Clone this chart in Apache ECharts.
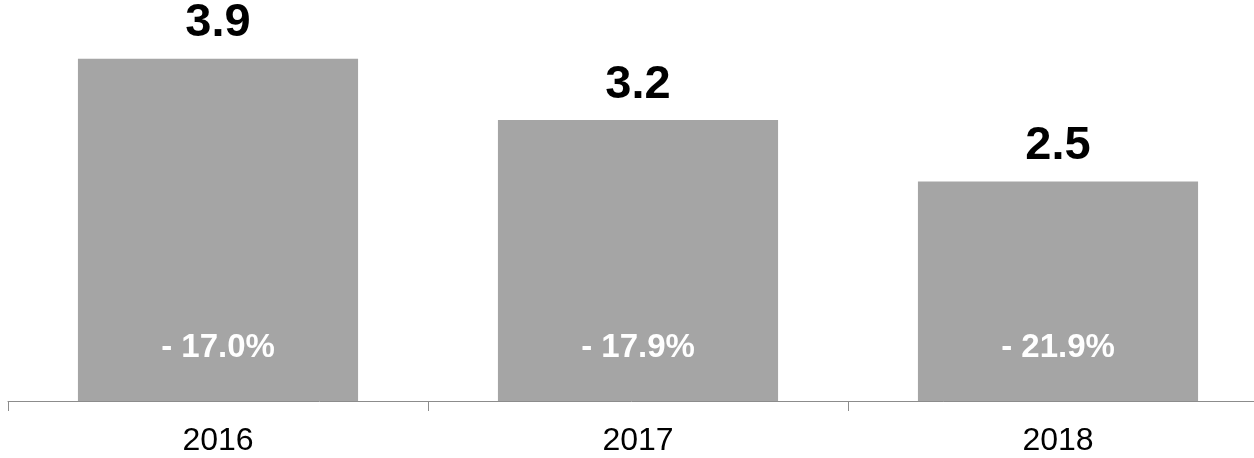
<!DOCTYPE html>
<html>
<head>
<meta charset="utf-8">
<style>
  html, body { margin: 0; padding: 0; background: #ffffff; }
  #chart { width: 1254px; height: 458px; }
</style>
<script src="https://cdn.jsdelivr.net/npm/echarts@6/dist/echarts.min.js"></script>
</head>
<body>
<div id="chart"></div>
<script>
// Yearly values and year-over-year change shown inside each bar
const years = ['2016', '2017', '2018'];
const values = [3.9, 3.2, 2.5];
const changes = ['- 17.0%', '- 17.9%', '- 21.9%'];

const FONT = '"Liberation Sans", Arial, Helvetica, sans-serif';
const BAR = '#a5a5a5';

const chart = echarts.init(document.getElementById('chart'), null, { renderer: 'canvas' });

chart.setOption({
  animation: false,
  // the plot area runs slightly past the right edge of the canvas
  grid: { left: 8, width: 1260, top: 6, bottom: 57, containLabel: false, outerBoundsMode: 'none' },
  xAxis: {
    type: 'category',
    data: years,
    axisLine: { lineStyle: { color: '#8c8c8c', width: 1 } },
    axisTick: { show: true, length: 10, lineStyle: { color: '#8c8c8c' } },
    axisLabel: { color: '#000000', fontFamily: FONT, fontSize: 32, margin: 24 }
  },
  yAxis: {
    type: 'value',
    min: 0,
    max: 4.5,
    show: false,
    splitLine: { show: false }
  },
  series: [
    {
      type: 'bar',
      data: values,
      barWidth: '66.7%',
      itemStyle: { color: BAR },
      label: {
        show: true,
        position: 'top',
        distance: 12,
        color: '#000000',
        fontFamily: FONT,
        fontWeight: 'bold',
        fontSize: 47,
        formatter: p => p.value.toFixed(1)
      }
    },
    {
      type: 'bar',
      data: values,
      barWidth: '66.7%',
      barGap: '-100%',
      itemStyle: { color: 'rgba(0,0,0,0)' },
      silent: true,
      label: {
        show: true,
        position: 'insideBottom',
        distance: 37,
        color: '#ffffff',
        fontFamily: FONT,
        fontWeight: 'bold',
        fontSize: 33,
        formatter: p => changes[p.dataIndex]
      }
    }
  ]
});
</script>
</body>
</html>
